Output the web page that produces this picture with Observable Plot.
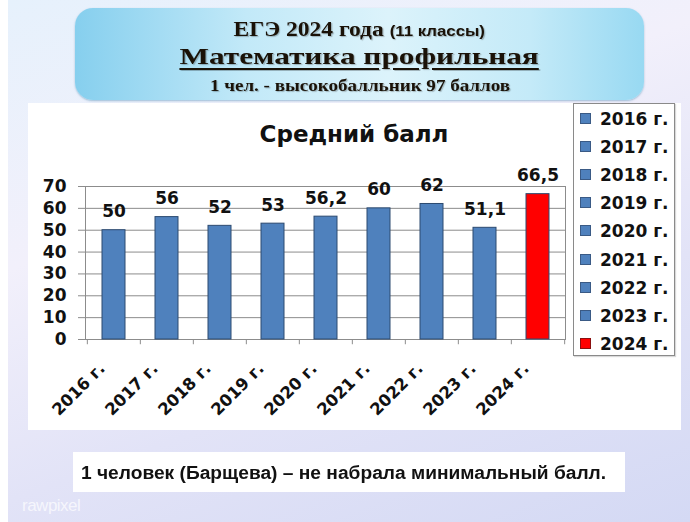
<!DOCTYPE html>
<html>
<head>
<meta charset="utf-8">
<script src="https://cdn.jsdelivr.net/npm/d3@7"></script>
<script src="https://cdn.jsdelivr.net/npm/@observablehq/plot@0.6"></script>
<style>
html,body{margin:0;padding:0;}
body{width:690px;height:522px;position:relative;overflow:hidden;background:#ffffff;}
#bg{position:absolute;left:8px;top:0;width:682px;height:522px;
  background:linear-gradient(160deg,#e6f1fc 0%,#f2f0fb 35%,#e2e3f7 65%,#d4d9f4 100%);}
#titlebox{position:absolute;left:75px;top:8px;width:569px;height:92px;border-radius:18px;
  background:linear-gradient(90deg,#86cfee 0%,#c2e9f8 30%,#dcf3fb 55%,#c4eaf8 80%,#98d9f2 100%);
  box-shadow:0 1px 2px rgba(80,140,180,0.5);}
.tl{position:absolute;left:0;width:569px;text-align:center;white-space:nowrap;color:#1a1208;
  text-shadow:1px 1px 1px rgba(0,0,0,0.25);}
.serif{font-family:"Liberation Serif","Times New Roman",serif;font-weight:bold;}
.sans{font-family:"Liberation Sans",Arial,sans-serif;font-weight:bold;}
#panel{position:absolute;left:28px;top:103px;width:653px;height:327px;background:#ffffff;}
#chart{position:absolute;left:0;top:0;}
#ctitle{position:absolute;left:0;top:0;width:653px;height:0;}
#ctitle span{position:absolute;left:326px;top:20px;transform:translateX(-50%);white-space:nowrap;
  font-family:"DejaVu Sans",sans-serif;font-weight:bold;font-size:23px;line-height:23px;color:#111;}
#legend{position:absolute;left:545px;top:0px;width:100px;height:251px;background:#fff;
  border:1px solid #8a8a8a;box-shadow:1px 1px 1px rgba(0,0,0,0.15);}
.li{position:absolute;left:0;height:20px;width:100px;}
.sw{position:absolute;left:6px;top:4px;width:11px;height:11px;border:1px solid #3a5a85;box-sizing:border-box;}
.lt{position:absolute;left:26px;top:0;font-family:"DejaVu Sans",sans-serif;font-weight:bold;font-size:17px;line-height:20px;color:#111;white-space:nowrap;}
#note{position:absolute;left:73px;top:452px;width:552px;height:40px;background:#fff;}
#note span{position:absolute;left:8px;top:11px;font-family:"Liberation Sans",Arial,sans-serif;font-weight:bold;font-size:18px;line-height:20px;color:#111;white-space:nowrap;transform:scaleX(1.065);transform-origin:0 50%;}
#wm{position:absolute;left:22px;top:496px;font-family:"Liberation Sans",Arial,sans-serif;font-size:17px;color:rgba(255,255,255,0.7);letter-spacing:-0.5px;}
</style>
</head>
<body>
<div id="bg"></div>
<div id="titlebox">
  <div class="tl" style="top:9px;height:24px;line-height:24px;font-size:21px;">
    <span class="serif" style="display:inline-block;transform:scaleX(1.12);">ЕГЭ 2024 года <span class="sans" style="font-size:15px;">(11 классы)</span></span>
  </div>
  <div class="tl" style="top:34px;height:30px;line-height:30px;">
    <span class="serif" style="display:inline-block;font-size:23px;transform:scaleX(1.36);text-decoration:underline;text-decoration-thickness:2px;text-underline-offset:4px;">Математика профильная</span>
  </div>
  <div class="tl" style="top:68px;height:20px;line-height:20px;">
    <span class="serif" style="display:inline-block;font-size:17px;transform:scaleX(1.12);">1 чел. - высокобалльник 97 баллов</span>
  </div>
</div>
<div id="panel">
  <div id="chart"></div>
  <div id="ctitle"><span>Средний балл</span></div>
  <div id="legend"></div>
</div>
<div id="note"><span>1 человек (Барщева) – не набрала минимальный балл.</span></div>
<div id="wm">rawpixel</div>
<script>
const years = ["2016 г.","2017 г.","2018 г.","2019 г.","2020 г.","2021 г.","2022 г.","2023 г.","2024 г."];
const scores = [50, 56, 52, 53, 56.2, 60, 62, 51.1, 66.5];
const scoreLabels = ["50","56","52","53","56,2","60","62","51,1","66,5"];
const yTicks = [0,10,20,30,40,50,60,70];
const highlightYear = "2024 г.";

const BLUE = "#4f81bd", RED = "#ff0000";
const W = 545, H = 327, mL = 57, mR = 8, mT = 83, mB = 91;
const step = (W - mL - mR) / years.length;
const data = years.map((year, i) => ({year, score: scores[i], label: scoreLabels[i]}));
const colorRange = years.map(y => y === highlightYear ? RED : BLUE);

const chart = Plot.plot({
  width: W, height: H,
  marginLeft: mL, marginRight: mR, marginTop: mT, marginBottom: mB,
  style: {fontFamily: "'DejaVu Sans', sans-serif", fontWeight: "bold", fontSize: "17px", color: "#111", background: "transparent", overflow: "visible"},
  x: {domain: years, paddingInner: 0.575, paddingOuter: 0.2875, axis: null},
  y: {domain: [0, 70], axis: null},
  color: {domain: years, range: colorRange},
  marks: [
    Plot.gridY(yTicks, {stroke: "#8c8c8c", strokeOpacity: 1, strokeWidth: 1}),
    Plot.frame({stroke: "#8c8c8c", strokeWidth: 1}),
    Plot.axisY(yTicks, {label: null, tickSize: 7, tickPadding: 12, stroke: "#8c8c8c", fontSize: 17, fontWeight: "bold", tickFormat: d => String(d)}),
    Plot.ruleX(years, {x: d => d, dx: -step / 2, y1: 0, y2: -2.4, stroke: "#8c8c8c"}),
    Plot.ruleX([years[years.length - 1]], {x: d => d, dx: step / 2, y1: 0, y2: -2.4, stroke: "#8c8c8c"}),
    Plot.barY(data, {x: "year", y: "score", fill: "year", stroke: "#2c4a70", strokeWidth: 1}),
    Plot.text(data, {x: "year", y: "score", text: "label", dy: -13, lineAnchor: "bottom", fontSize: 17, fontWeight: "bold", fill: "#111"}),
    Plot.text(years, {x: d => d, frameAnchor: "bottom", rotate: -45, textAnchor: "end", lineAnchor: "bottom", dx: -8, dy: 30, fontSize: 16.5, fontWeight: "bold", fill: "#111"})
  ]
});
document.getElementById("chart").appendChild(chart);

const legend = document.getElementById("legend");
years.forEach((y, i) => {
  const row = document.createElement("div");
  row.className = "li";
  row.style.top = (5 + i * 28.1) + "px";
  const sw = document.createElement("div");
  sw.className = "sw";
  sw.style.background = colorRange[i];
  if (y === highlightYear) sw.style.borderColor = "#8a1010";
  const t = document.createElement("div");
  t.className = "lt";
  t.textContent = y;
  row.appendChild(sw); row.appendChild(t);
  legend.appendChild(row);
});
</script>
</body>
</html>
